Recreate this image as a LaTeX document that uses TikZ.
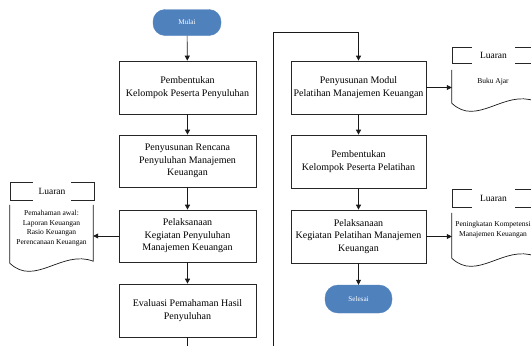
\documentclass[tikz,border=0pt]{standalone}
\usepackage{fontspec}
\setmainfont{Liberation Serif}
\usetikzlibrary{arrows.meta,calc}
\definecolor{termblue}{RGB}{79,129,189}
\begin{document}
\begin{tikzpicture}[x=1pt,y=-1pt,
  line/.style={draw=black!90,line width=0.7pt},
  arr/.style={line,-{Triangle[length=5pt,width=5pt]}},
  procbox/.style={draw=black!85,line width=0.7pt,minimum width=137pt,minimum height=53pt,align=center,inner sep=2pt,font=\fontsize{10}{12.5}\selectfont},
  term/.style={fill=termblue,draw=termblue,rounded corners=12pt,minimum width=68pt,minimum height=26pt,text=white,font=\fontsize{7.2}{8}\selectfont},
  docbody/.style={minimum width=83pt,inner sep=0pt,align=center,font=\fontsize{7.5}{9.8}\selectfont},
  hdrbox/.style={draw=black!85,line width=0.7pt,minimum width=84pt,inner sep=0pt},
  hdrtext/.style={fill=white,inner xsep=6pt,minimum height=24pt,font=\fontsize{9.5}{11}\selectfont}
]
\clip (0,0) rectangle (531,346);
\useasboundingbox (0,0) rectangle (531,346);

% left column
\node[term] (mulai) at (187,22.5) {Mulai};
\node[procbox] (b1) at (187.5,87.5) {Pembentukan\\Kelompok Peserta Penyuluhan};
\node[procbox,minimum height=52pt] (b2) at (187.5,161) {Penyusunan Rencana\\Penyuluhan Manajemen\\Keuangan};
\node[procbox,minimum height=52pt] (b3) at (187.5,236) {Pelaksanaan\\Kegiatan Penyuluhan\\Manajemen Keuangan};
\node[procbox] (b4) at (187.5,310.5) {Evaluasi Pemahaman Hasil\\Penyuluhan};
\coordinate (bl) at (187.5,346);

% right column
\node[procbox,minimum width=135pt] (b5) at (358.5,87.5) {Penyusunan Modul\\Pelatihan Manajemen Keuangan};
\node[procbox,minimum width=135pt] (b6) at (358.5,161.5) {Pembentukan\\Kelompok Peserta Pelatihan};
\node[procbox,minimum width=135pt] (b7) at (358.5,236.5) {Pelaksanaan\\Kegiatan Pelatihan Manajemen\\Keuangan};
\node[term,minimum width=67pt,minimum height=28pt,rounded corners=13pt] (selesai) at (358.5,299) {Selesai};
\coordinate (br) at (273,346);
\coordinate (turn) at (273,32.5);

% left output document
\node[hdrbox,minimum height=18pt] (hL) at (52,191) {};
\node[hdrtext] (hLt) at (hL) {Luaran};
\node[docbody,minimum height=58pt] (docL) at (51.5,234) {};
\node[docbody,anchor=north] (docLt) at ($(docL.north)+(0,5)$) {Pemahaman awal:\\Laporan Keuangan\\Rasio Keuangan\\Perencanaan Keuangan};
\draw[line] (docL.north west) -- (docL.south west)
  .. controls +(25,24) and +(-31,-12) .. ($(docL.south east)+(0,-2)$) -- (docL.north east);

% right output document 1
\node[hdrbox,minimum height=16pt,minimum width=83pt] (hR1) at (493.5,55) {};
\node[hdrtext,inner xsep=8pt] (hR1t) at (hR1) {Luaran};
\node[docbody,minimum height=33pt] (docR1) at (493.5,86.5) {};
\node[docbody] (docR1t) at (493,82) {Buku Ajar};
\draw[line] (docR1.north west) -- (docR1.south west)
  .. controls +(25,24) and +(-31,-12) .. ($(docR1.south east)+(0,-2)$) -- (docR1.north east);

% right output document 2
\node[hdrbox,minimum height=18pt,minimum width=83pt] (hR2) at (493.5,198) {};
\node[hdrtext,inner xsep=8pt] (hR2t) at (hR2) {Luaran};
\node[docbody,minimum height=45pt] (docR2) at (493.5,235.5) {};
\node[docbody] (docR2t) at (493,230) {Peningkatan Kompetensi\\Manajemen Keuangan};
\draw[line] (docR2.north west) -- (docR2.south west)
  .. controls +(25,24) and +(-31,-12) .. ($(docR2.south east)+(0,-2)$) -- (docR2.north east);

% connectors
\draw[arr] (mulai) -- (b1);
\draw[arr] (b1) -- (b2);
\draw[arr] (b2) -- (b3);
\draw[arr] (b3) -- (b4);
\draw[line] (b4) -- (bl);
\draw[arr] (br) -- (turn) -| (b5.north);
\draw[arr] (b5) -- (b6);
\draw[arr] (b6) -- (b7);
\draw[arr] (b7) -- (selesai);
\draw[arr] (b3.west) -- (b3.west -| docL.east);
\draw[arr] (b5.east) -- (b5.east -| docR1.west);
\draw[arr] (b7.east) -- (b7.east -| docR2.west);
\end{tikzpicture}
\end{document}
